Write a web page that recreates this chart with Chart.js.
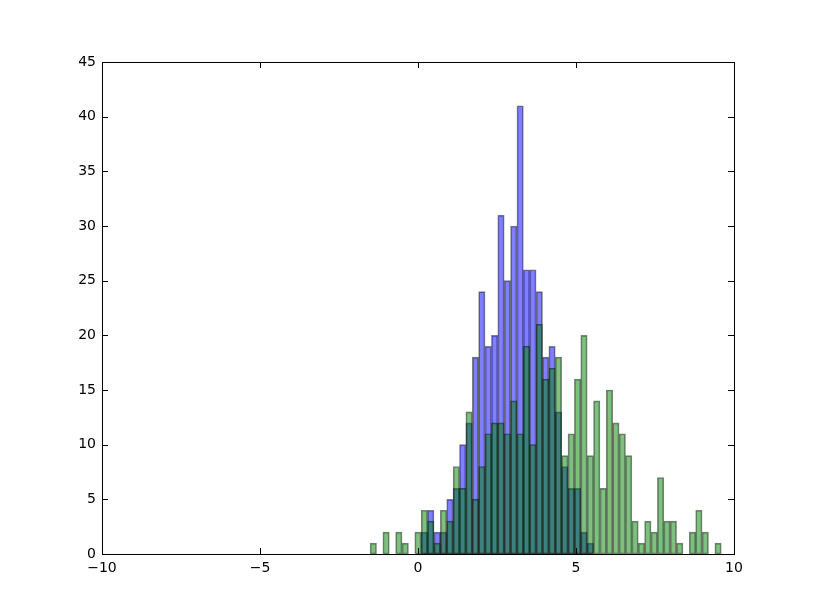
<!DOCTYPE html>
<html>
<head>
<meta charset="utf-8">
<script src="https://cdn.jsdelivr.net/npm/chart.js@4/dist/chart.umd.min.js"></script>
<style>
  html, body { margin: 0; padding: 0; background: #fff; }
  canvas { display: block; }
</style>
</head>
<body>
<canvas id="hist" width="815" height="615"></canvas>
<script>
// 99 equal bins between -10 and 10 (edges = linspace(-10, 10, 100))
const binMin = -10;
const binMax = 10;
const binTotal = 99;
const firstBin = 42; // counts below start at this bin

const blueCounts = [
  0, 0, 0, 0, 0, 0, 0, 0,
  2, 4, 2, 2, 5, 6, 10, 12, 18, 24, 19, 20, 31, 25, 30, 41, 26, 26, 24, 18, 19, 13, 8, 6, 6, 2, 1,
  0, 0, 0, 0, 0, 0, 0, 0, 0, 0, 0, 0, 0, 0, 0, 0, 0, 0, 0, 0
];
const greenCounts = [
  1, 0, 2, 0, 2, 1, 0, 2, 4, 3, 1, 4, 3, 8, 6, 13, 5, 8, 11, 12, 12, 11, 14, 11, 19, 10, 21, 16,
  17, 18, 9, 11, 16, 20, 9, 14, 6, 15, 12, 11, 9, 3, 1, 3, 2, 7, 3, 3, 1, 0, 2, 4, 2, 0, 1
];

const xTicks = [-10, -5, 0, 5, 10];
const yTicks = [0, 5, 10, 15, 20, 25, 30, 35, 40, 45];

const binWidth = (binMax - binMin) / binTotal;
const toPoints = counts => counts.map((c, i) => ({ x: binMin + (firstBin + i + 0.5) * binWidth, y: c }));
const fmt = v => (v < 0 ? "\u2212" + Math.abs(v) : String(v));

// matplotlib-ish frame with inward ticks on all four sides
const frameTicks = {
  id: "frameTicks",
  afterDraw(chart) {
    const { ctx, chartArea: a, scales: { x, y } } = chart;
    const len = 6;
    ctx.save();
    ctx.strokeStyle = "#000";
    ctx.lineWidth = 1;
    ctx.beginPath();
    xTicks.forEach(v => {
      const px = Math.round(x.getPixelForValue(v)) + 0.5;
      ctx.moveTo(px, a.bottom); ctx.lineTo(px, a.bottom - len);
      ctx.moveTo(px, a.top); ctx.lineTo(px, a.top + len);
    });
    yTicks.forEach(v => {
      const py = Math.round(y.getPixelForValue(v)) + 0.5;
      ctx.moveTo(a.left, py); ctx.lineTo(a.left + len, py);
      ctx.moveTo(a.right, py); ctx.lineTo(a.right - len, py);
    });
    ctx.stroke();
    ctx.strokeRect(Math.round(a.left) + 0.5, Math.round(a.top) + 0.5,
      Math.round(a.right - a.left), Math.round(a.bottom - a.top));
    ctx.restore();
  }
};

Chart.defaults.font.family = "'DejaVu Sans', sans-serif";
Chart.defaults.font.size = 14;
Chart.defaults.color = "#000";

new Chart(document.getElementById("hist").getContext("2d"), {
  type: "bar",
  data: {
    datasets: [
      {
        label: "blue",
        data: toPoints(blueCounts),
        backgroundColor: "rgba(0, 0, 255, 0.5)",
        borderColor: "rgba(0, 0, 0, 0.5)",
        borderWidth: 1,
        order: 1,
      },
      {
        label: "green",
        data: toPoints(greenCounts),
        backgroundColor: "rgba(0, 128, 0, 0.5)",
        borderColor: "rgba(0, 0, 0, 0.5)",
        borderWidth: 1,
        order: 0,
      },
    ],
  },
  options: {
    responsive: false,
    animation: false,
    layout: { padding: { top: 62, right: 81, left: 0, bottom: 0 } },
    datasets: { bar: { grouped: false, barPercentage: 1, categoryPercentage: 1, borderSkipped: false } },
    plugins: { legend: { display: false }, tooltip: { enabled: false } },
    scales: {
      x: {
        type: "linear",
        offset: false,
        min: -10,
        max: 10,
        grid: { display: false, drawTicks: false },
        border: { display: false },
        afterBuildTicks: s => { s.ticks = xTicks.map(v => ({ value: v })); },
        afterFit: s => { s.height = 61; },
        ticks: { padding: 6, maxRotation: 0, callback: v => fmt(v) },
      },
      y: {
        min: 0,
        max: 45,
        grid: { display: false, drawTicks: false },
        border: { display: false },
        afterBuildTicks: s => { s.ticks = yTicks.map(v => ({ value: v })); },
        afterFit: s => { s.width = 102; },
        ticks: { padding: 6, callback: v => fmt(v) },
      },
    },
  },
  plugins: [frameTicks],
});
</script>
</body>
</html>
